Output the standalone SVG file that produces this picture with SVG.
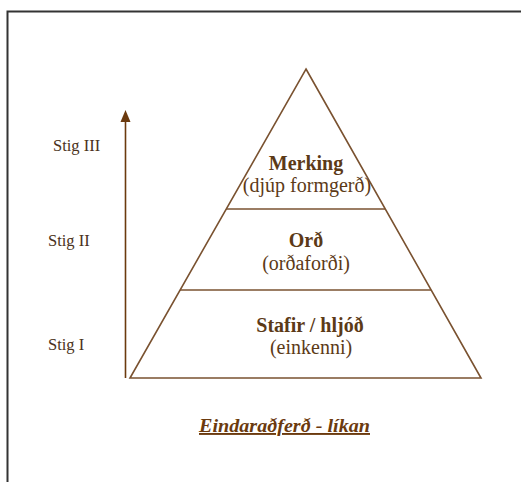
<svg xmlns="http://www.w3.org/2000/svg" width="521" height="482" viewBox="0 0 521 482">
<style>
.ln{stroke:#7a5230;stroke-width:1.6;fill:none}
text{font-family:'Liberation Serif','Times New Roman','DejaVu Serif',serif}
.main{font-size:20px;fill:#5c3a17;text-anchor:middle}
.b{font-weight:bold}
.stig{font-size:16.5px;fill:#4a3220}
.title{font-size:19px;font-weight:bold;font-style:italic;fill:#6b3a0e;text-decoration:underline}
</style>
<rect width="521" height="482" fill="#fff"/>
<path d="M7.5,482 V11.5 H521" stroke="#333" stroke-width="2" fill="none"/>
<g id="connectors">
<line x1="125.5" y1="378" x2="125.5" y2="121" stroke="#6b3a0e" stroke-width="1.6"/>
<path d="M120.5,122 L125.5,110 L130.5,122 Z" fill="#6b3a0e"/>
</g>
<g id="pyramid">
<path class="ln" d="M306,69 L481,378 L130,378 Z"/>
</g>
<g id="level3">
<line class="ln" x1="226" y1="209" x2="385" y2="209"/>
<text class="main b" x="306" y="170" font-family="Liberation Serif, serif">Merking</text>
<text class="main" x="307" y="191.5" font-family="Liberation Serif, serif">(djúp formgerð)</text>
</g>
<g id="level2">
<line class="ln" x1="180" y1="290" x2="431" y2="290"/>
<text class="main b" x="306" y="247" font-family="Liberation Serif, serif">Orð</text>
<text class="main" x="306" y="270" font-family="Liberation Serif, serif">(orðaforði)</text>
</g>
<g id="level1">
<text class="main b" x="310" y="332" font-family="Liberation Serif, serif">Stafir / hljóð</text>
<text class="main" x="311" y="354" font-family="Liberation Serif, serif">(einkenni)</text>
</g>
<g id="stig3"><text class="stig" x="53" y="151">Stig III</text></g>
<g id="stig2"><text class="stig" x="48" y="246">Stig II</text></g>
<g id="stig1"><text class="stig" x="48" y="350">Stig I</text></g>
<g id="title"><text class="title" x="199" y="432" textLength="171" lengthAdjust="spacingAndGlyphs" font-family="Liberation Serif, serif">Eindaraðferð - líkan</text></g>
</svg>
